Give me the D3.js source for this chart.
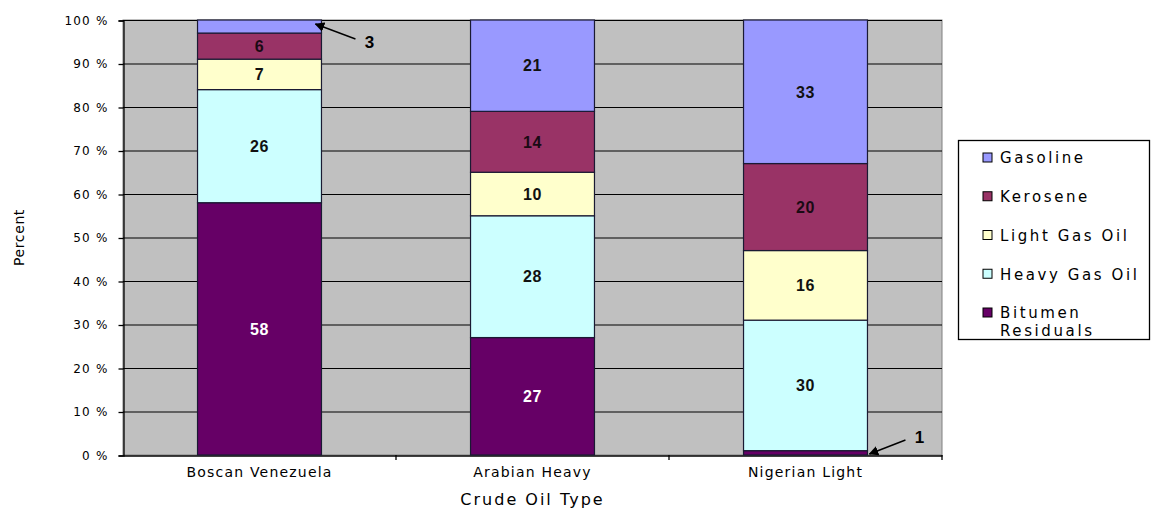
<!DOCTYPE html>
<html>
<head>
<meta charset="utf-8">
<script src="https://cdn.jsdelivr.net/npm/d3@7"></script>
<style>
  html, body { margin: 0; padding: 0; background: #ffffff; }
  svg { display: block; font-family: "DejaVu Sans", "Liberation Sans", Arial, sans-serif; }
</style>
</head>
<body>
<svg id="chart" width="1151" height="510"></svg>
<script>
// Refinery yield by crude oil type (percent of barrel)
const crudes = ["Boscan Venezuela", "Arabian Heavy", "Nigerian Light"];
const fractions = ["Bitumen Residuals", "Heavy Gas Oil", "Light Gas Oil", "Kerosene", "Gasoline"];
const bitumen = [58, 27, 1];
const heavyGasOil = [26, 28, 30];
const lightGasOil = [7, 10, 16];
const kerosene = [6, 14, 20];
const gasoline = [3, 21, 33];
const yTicks = [0, 10, 20, 30, 40, 50, 60, 70, 80, 90, 100];
const legendOrder = ["Gasoline", "Kerosene", "Light Gas Oil", "Heavy Gas Oil", "Bitumen Residuals"];
const colors = {
  "Bitumen Residuals": "#660066",
  "Heavy Gas Oil": "#ccffff",
  "Light Gas Oil": "#ffffcc",
  "Kerosene": "#993366",
  "Gasoline": "#9999ff"
};

const seriesValues = {
  "Bitumen Residuals": bitumen,
  "Heavy Gas Oil": heavyGasOil,
  "Light Gas Oil": lightGasOil,
  "Kerosene": kerosene,
  "Gasoline": gasoline
};

const rows = crudes.map((c, i) => {
  const r = { crude: c };
  fractions.forEach(f => { r[f] = seriesValues[f][i]; });
  return r;
});

const svg = d3.select("#chart");
const plot = { left: 123, right: 942, top: 20, bottom: 455 };
const FONT = "\"DejaVu Sans\", \"Liberation Sans\", Arial, sans-serif";
const BOLD_FONT = "\"Liberation Sans\", Arial, sans-serif";

const x = d3.scaleBand().domain(crudes).range([plot.left, plot.right]).padding(0);
const barW = x.bandwidth() * 0.454;
const y = d3.scaleLinear().domain([0, 100]).range([plot.bottom, plot.top]);

// plot background
svg.append("rect")
  .attr("x", plot.left).attr("y", plot.top)
  .attr("width", plot.right - plot.left).attr("height", plot.bottom - plot.top)
  .attr("fill", "#c0c0c0")
  .attr("stroke", "#808080").attr("stroke-width", 1);

// horizontal gridlines
svg.append("g").selectAll("line")
  .data(yTicks.filter(t => t > 0))
  .join("line")
  .attr("x1", plot.left).attr("x2", plot.right)
  .attr("y1", d => y(d) + 0.5).attr("y2", d => y(d) + 0.5)
  .attr("stroke", "#000").attr("stroke-width", 1.2);

// y axis
const yAxis = d3.axisLeft(y).tickValues(yTicks).tickSize(5).tickPadding(10)
  .tickFormat(d => d + " %");
const yg = svg.append("g").attr("transform", `translate(${plot.left + 0.5},0.5)`).call(yAxis);
yg.select(".domain").attr("stroke", "#000").attr("stroke-width", 1.3);
yg.selectAll(".tick line").attr("stroke", "#000").attr("stroke-width", 1.3);
yg.selectAll(".tick text").attr("font-size", 12).attr("fill", "#000")
  .attr("font-family", FONT).attr("letter-spacing", 1.2);

// x axis
const xAxis = d3.axisBottom(x).tickSize(0).tickPadding(12);
const xg = svg.append("g").attr("transform", `translate(0,${plot.bottom + 0.5})`).call(xAxis);
xg.select(".domain").attr("stroke", "#000").attr("stroke-width", 1.3);
xg.selectAll(".tick text").attr("font-size", 14).attr("fill", "#000")
  .attr("font-family", FONT).attr("letter-spacing", 1.2);
// category separators
svg.append("g").selectAll("line")
  .data(crudes.slice(1).concat(["__end"]))
  .join("line")
  .attr("x1", d => d === "__end" ? plot.right : x(d))
  .attr("x2", d => d === "__end" ? plot.right : x(d))
  .attr("y1", plot.bottom).attr("y2", plot.bottom + 5)
  .attr("stroke", "#000").attr("stroke-width", 1.3);

// stacked bars
const stack = d3.stack().keys(fractions);
const layers = stack(rows);
const segs = [];
layers.forEach(layer => {
  layer.forEach(d => {
    segs.push({ key: layer.key, crude: d.data.crude, y0: d[0], y1: d[1], v: d.data[layer.key] });
  });
});

const cx = c => x(c) + x.bandwidth() / 2;

svg.append("g").selectAll("rect")
  .data(segs)
  .join("rect")
  .attr("x", d => cx(d.crude) - barW / 2)
  .attr("y", d => y(d.y1))
  .attr("width", barW)
  .attr("height", d => y(d.y0) - y(d.y1))
  .attr("fill", d => colors[d.key])
  .attr("stroke", "#1a1a33").attr("stroke-width", 1.2);

// value labels (segments large enough to hold text)
svg.append("g").selectAll("text")
  .data(segs.filter(d => d.v >= 5))
  .join("text")
  .attr("x", d => cx(d.crude))
  .attr("y", d => y((d.y0 + d.y1) / 2))
  .attr("dy", "0.36em")
  .attr("text-anchor", "middle")
  .attr("font-family", BOLD_FONT)
  .attr("font-size", 16).attr("font-weight", "bold")
  .attr("letter-spacing", 0.5)
  .attr("fill", d => d.key === "Bitumen Residuals" ? "#ffffff" : (d.key === "Kerosene" ? "#1a0a14" : "#111"))
  .text(d => d.v);

// callouts for thin segments
svg.append("defs").append("marker")
  .attr("id", "arrowHead").attr("viewBox", "0 0 10 10")
  .attr("refX", 9).attr("refY", 5)
  .attr("markerWidth", 7).attr("markerHeight", 7)
  .attr("orient", "auto")
  .append("path").attr("d", "M0,0 L10,5 L0,10 Z").attr("fill", "#000");

const small = segs.filter(d => d.v < 5);
const callouts = small.map(d => {
  const edge = cx(d.crude) + barW / 2;
  if (d.key === "Gasoline") {
    return { d, tx: edge + 48, ty: y(d.y1) + 22, x1: edge + 34, y1: y(d.y1) + 19, x2: edge - 6, y2: y(d.y1) + 4 };
  }
  return { d, tx: edge + 52, ty: y(d.y0) - 18, x1: edge + 38, y1: y(d.y0) - 15, x2: edge + 2, y2: y(d.y0) - 1 };
});
svg.append("g").selectAll("line")
  .data(callouts).join("line")
  .attr("x1", c => c.x1).attr("y1", c => c.y1)
  .attr("x2", c => c.x2).attr("y2", c => c.y2)
  .attr("stroke", "#000").attr("stroke-width", 1.4)
  .attr("marker-end", "url(#arrowHead)");
svg.append("g").selectAll("text")
  .data(callouts).join("text")
  .attr("x", c => c.tx).attr("y", c => c.ty)
  .attr("dy", "0.36em").attr("text-anchor", "middle")
  .attr("font-family", BOLD_FONT)
  .attr("font-size", 17).attr("font-weight", "bold").attr("fill", "#000")
  .text(c => c.d.v);

// axis titles
svg.append("text")
  .attr("transform", `translate(24,${(plot.top + plot.bottom) / 2}) rotate(-90)`)
  .attr("text-anchor", "middle").attr("font-size", 14).attr("fill", "#000")
  .attr("letter-spacing", 0.6)
  .text("Percent");
svg.append("text")
  .attr("x", (plot.left + plot.right) / 2).attr("y", 505)
  .attr("text-anchor", "middle").attr("font-size", 16).attr("fill", "#000")
  .attr("letter-spacing", 2)
  .text("Crude Oil Type");

// legend
const lg = svg.append("g");
lg.append("rect")
  .attr("x", 958.5).attr("y", 140.5).attr("width", 191).attr("height", 199)
  .attr("fill", "#fff").attr("stroke", "#000").attr("stroke-width", 1.3);
const ly = d3.scalePoint().domain(legendOrder).range([158, 313]);
const items = lg.selectAll("g.item").data(legendOrder).join("g").attr("class", "item")
  .attr("transform", d => `translate(983,${ly(d)})`);
items.append("rect")
  .attr("x", 0).attr("y", -5).attr("width", 9).attr("height", 9)
  .attr("fill", d => colors[d]).attr("stroke", "#000").attr("stroke-width", 1);
items.append("text")
  .attr("x", 17).attr("y", 0).attr("dy", "0.35em")
  .attr("font-size", 15).attr("fill", "#000").attr("letter-spacing", 2.6)
  .each(function(d) {
    const t = d3.select(this);
    if (d === "Bitumen Residuals") {
      t.append("tspan").attr("x", 17).text("Bitumen");
      t.append("tspan").attr("x", 17).attr("dy", 18).text("Residuals");
    } else {
      t.text(d);
    }
  });
</script>
</body>
</html>
